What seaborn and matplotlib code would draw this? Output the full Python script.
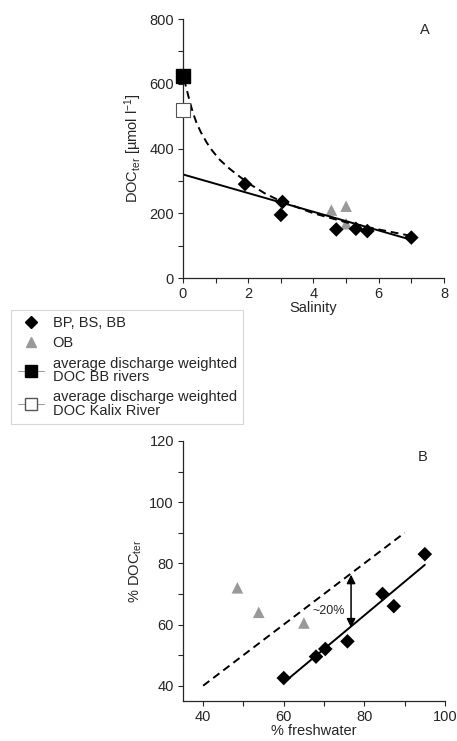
import numpy as np
import pandas as pd
import matplotlib
matplotlib.use('Agg')
import matplotlib.pyplot as plt
from matplotlib.lines import Line2D
from matplotlib.ticker import MultipleLocator
import seaborn as sns

# Panel A: DOC_ter vs salinity
sal_bp = [1.9, 3.0, 3.05, 4.7, 5.3, 5.65, 7.0]
doc_bp = [290, 195, 235, 150, 152, 145, 125]
sal_ob = [4.55, 5.0, 5.0]
doc_ob = [210, 222, 168]
doc_bb_rivers = 625
doc_kalix = 520

# regression lines
lin_sal = [0, 7]
lin_doc = [320, 118]
curve_sal = [0.03, 0.1, 0.2, 0.3, 0.42, 0.55, 0.73, 0.9, 1.13, 1.4, 1.65, 2.0, 2.5, 3.0, 4.0, 5.0, 6.0, 7.0]
curve_doc = [615, 588, 548, 512, 478, 450, 418, 393, 365, 340, 320, 293, 262, 237, 200, 172, 150, 130]

# Panel B: % DOC_ter vs % freshwater
fw_bp = [60, 68, 70.3, 75.8, 84.5, 87.3, 95]
pdoc_bp = [42.5, 49.5, 52, 54.5, 70, 66, 83]
fw_ob = [48.5, 53.8, 65]
pdoc_ob = [72, 64, 60.5]
one_to_one = [40, 90]
fit_fw = [60, 95]
fit_pdoc = [41, 79.5]

sns.set_style('ticks')
plt.rcParams['font.family'] = ['Liberation Sans', 'DejaVu Sans']
plt.rcParams['mathtext.fontset'] = 'custom'
plt.rcParams['mathtext.rm'] = 'Liberation Sans'
plt.rcParams['mathtext.it'] = 'Liberation Sans:italic'

FS = 10.5
grey = '#999999'
fig = plt.figure(figsize=(4.57, 7.41), dpi=100)
axA = fig.add_axes([0.4004, 0.6248, 0.5711, 0.3495])
axB = fig.add_axes([0.4004, 0.0540, 0.5733, 0.3509])

# ---- panel A
sns.lineplot(x=curve_sal, y=curve_doc, ax=axA, color='black', lw=1.4, linestyle=(0, (4, 2.5)))
sns.lineplot(x=lin_sal, y=lin_doc, ax=axA, color='black', lw=1.4)
sns.scatterplot(x=sal_ob, y=doc_ob, ax=axA, marker='^', color=grey, s=70, edgecolor='none')
sns.scatterplot(x=sal_bp, y=doc_bp, ax=axA, marker='D', color='black', s=55, edgecolor='none')
axA.scatter([0], [doc_kalix], marker='s', s=95, facecolor='white', edgecolor='#555555',
            linewidth=0.8, clip_on=False, zorder=5)
axA.scatter([0], [doc_bb_rivers], marker='s', s=95, facecolor='black', edgecolor='black',
            clip_on=False, zorder=5)
axA.set_xlim(0, 8)
axA.set_ylim(0, 800)
axA.xaxis.set_major_locator(MultipleLocator(2))
axA.xaxis.set_minor_locator(MultipleLocator(1))
axA.yaxis.set_major_locator(MultipleLocator(200))
axA.yaxis.set_minor_locator(MultipleLocator(100))
axA.set_xlabel('Salinity', fontsize=FS, labelpad=0)
axA.set_ylabel('DOC$_{\\mathrm{ter}}$ [µmol l$^{-1}$]', fontsize=FS, labelpad=4)
axA.text(7.42, 766, 'A', fontsize=FS, ha='center', va='center')

# ---- panel B
sns.lineplot(x=one_to_one, y=one_to_one, ax=axB, color='black', lw=1.4, linestyle=(0, (4, 2.5)))
sns.lineplot(x=fit_fw, y=fit_pdoc, ax=axB, color='black', lw=1.4)
sns.scatterplot(x=fw_ob, y=pdoc_ob, ax=axB, marker='^', color=grey, s=70, edgecolor='none')
sns.scatterplot(x=fw_bp, y=pdoc_bp, ax=axB, marker='D', color='black', s=55, edgecolor='none')
axB.annotate('', xy=(76.7, 76.3), xytext=(76.7, 59.0),
             arrowprops=dict(arrowstyle='<|-|>', color='black', lw=1.1, mutation_scale=13,
                             shrinkA=0, shrinkB=0))
axB.text(71.2, 64.3, '~20%', fontsize=9, ha='center', va='center')
axB.text(94.5, 114.8, 'B', fontsize=FS, ha='center', va='center')
axB.set_xlim(35, 100)
axB.set_ylim(35, 120)
axB.set_xticks([40, 60, 80, 100])
axB.xaxis.set_minor_locator(MultipleLocator(10))
axB.set_yticks([40, 60, 80, 100, 120])
axB.yaxis.set_minor_locator(MultipleLocator(10))
axB.set_xlabel('% freshwater', fontsize=FS, labelpad=0)
axB.set_ylabel('% DOC$_{\\mathrm{ter}}$', fontsize=FS, labelpad=4)

for ax in (axA, axB):
    sns.despine(ax=ax)
    ax.tick_params(which='both', direction='out', length=3.5, width=0.8, labelsize=FS, pad=3)
    for sp in ax.spines.values():
        sp.set_linewidth(0.9)

# ---- legend
handles = [
    Line2D([], [], marker='D', color='black', linestyle='none', markersize=6.5),
    Line2D([], [], marker='^', color=grey, linestyle='none', markersize=6.5),
    Line2D([], [], marker='s', color='#888888', lw=0.6, markerfacecolor='black',
           markeredgecolor='black', markersize=8),
    Line2D([], [], marker='s', color='#888888', lw=0.6, markerfacecolor='white',
           markeredgecolor='#555555', markersize=8),
]
labels = ['BP, BS, BB', 'OB', 'average discharge weighted\nDOC BB rivers',
          'average discharge weighted\nDOC Kalix River']
leg = fig.legend(handles, labels, loc='upper left', bbox_to_anchor=(0.024, 0.582),
                 borderaxespad=0, fontsize=FS, frameon=True, fancybox=False,
                 edgecolor='#cccccc', handlelength=1.8, handletextpad=0.6,
                 labelspacing=0.42, borderpad=0.45)
leg.get_frame().set_linewidth(0.8)
for t in leg.get_texts():
    t.set_linespacing(0.95)

fig.savefig('out.png', dpi=100)
